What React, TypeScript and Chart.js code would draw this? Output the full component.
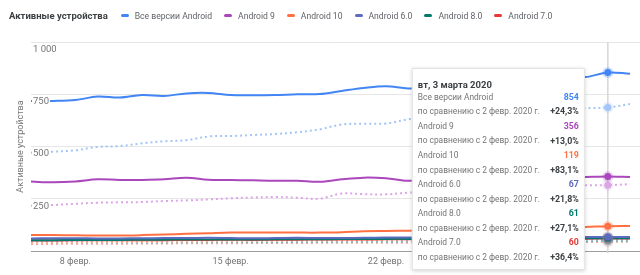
import React, { useEffect, useRef } from 'react';
import { Chart, registerables } from 'chart.js';

Chart.register(...registerables);

const dates = [
  '6 февр.', '7 февр.', '8 февр.', '9 февр.', '10 февр.', '11 февр.', '12 февр.',
  '13 февр.', '14 февр.', '15 февр.', '16 февр.', '17 февр.', '18 февр.', '19 февр.',
  '20 февр.', '21 февр.', '22 февр.', '23 февр.', '24 февр.', '25 февр.', '26 февр.',
  '27 февр.', '28 февр.', '29 февр.', '1 марта', '2 марта', '3 марта', '4 марта',
];

const allVersions = [718, 718, 722, 739, 734, 746, 742, 754, 756, 746, 745, 746, 750, 751, 766, 780, 788, 778, 784, 796, 803, 812, 818, 826, 830, 832, 854, 848];
const allVersionsPrev = [470, 475, 482, 498, 502, 515, 525, 530, 548, 550, 555, 560, 568, 582, 605, 609, 610, 630, 638, 645, 652, 660, 664, 670, 676, 683, 687, 703];
const android9 = [332, 329, 333, 343, 340, 340, 343, 351, 341, 340, 338, 336, 336, 331, 343, 351, 348, 336, 340, 345, 349, 350, 346, 350, 352, 354, 356, 354];
const android9Prev = [217, 220, 226, 231, 233, 234, 239, 242, 247, 252, 256, 258, 255, 250, 275, 272, 271, 279, 284, 290, 294, 299, 303, 307, 311, 314, 315, 320];
const android10 = [77, 76, 75, 74, 74, 76, 79, 82, 85, 88, 88, 88, 88, 88, 90, 95, 96, 97, 99, 101, 104, 106, 109, 111, 113, 115, 119, 120];
const android10Prev = [38, 39, 40, 41, 42, 43, 44, 45, 46, 47, 48, 49, 50, 50, 51, 53, 54, 55, 56, 57, 58, 59, 60, 61, 62, 63, 65, 66];
const android60 = [60, 61, 61, 60, 60, 61, 62, 62, 63, 62, 61, 62, 63, 62, 62, 63, 64, 64, 64, 65, 65, 65, 66, 66, 66, 67, 67, 67];
const android60Prev = [45, 45, 46, 46, 47, 47, 48, 48, 48, 49, 49, 50, 50, 50, 51, 51, 52, 52, 52, 53, 53, 53, 54, 54, 54, 55, 55, 56];
const android80 = [52, 52, 53, 53, 53, 54, 54, 55, 55, 55, 55, 56, 56, 56, 57, 57, 58, 58, 58, 59, 59, 59, 60, 60, 60, 61, 61, 61];
const android80Prev = [38, 38, 39, 39, 40, 40, 40, 41, 41, 42, 42, 42, 43, 43, 43, 44, 44, 45, 45, 45, 46, 46, 46, 47, 47, 47, 48, 48];
const android70 = [50, 50, 51, 51, 51, 52, 52, 53, 53, 54, 53, 54, 54, 55, 55, 55, 56, 56, 57, 57, 57, 58, 58, 59, 59, 59, 60, 60];
const android70Prev = [34, 34, 35, 35, 35, 36, 36, 37, 37, 37, 38, 38, 38, 39, 39, 40, 40, 40, 41, 41, 42, 42, 42, 43, 43, 43, 44, 44];

const seriesNames = ['Все версии Android', 'Android 9', 'Android 10', 'Android 6.0', 'Android 8.0', 'Android 7.0'];
const seriesColors = ['#4285f4', '#ab47bc', '#ff7043', '#5c6bc0', '#00796b', '#e53935'];
const prevColors = ['#a3c5f8', '#dca6e6', '#ffb29b', '#a9b1de', '#7fbdb4', '#f3a09e'];
const currentValues = [allVersions, android9, android10, android60, android80, android70];
const previousValues = [allVersionsPrev, android9Prev, android10Prev, android60Prev, android80Prev, android70Prev];
const changeLabels = ['+24,3%', '+13,0%', '+83,1%', '+21,8%', '+27,1%', '+36,4%'];

const chartTitle = 'Активные устройства';
const yAxisTitle = 'Активные устройства';
const tooltipTitle = 'вт, 3 марта 2020';
const compareText = 'по сравнению с 2 февр. 2020 г.';
const hoverIndex = 26;
const xTickIndexes = [2, 9, 16, 23];
const yTickValues = [0, 250, 500, 750, 1000];

const FONT = 'Roboto, "Noto Sans", sans-serif';

const hoverPlugin = {
  id: 'hoverOverlay',
  beforeDatasetsDraw(chart: any) {
    const { ctx, chartArea } = chart;
    const x = chart.scales.x.getPixelForValue(hoverIndex);
    ctx.save();
    ctx.strokeStyle = '#d6d6d6';
    ctx.lineWidth = 1.5;
    ctx.beginPath();
    ctx.moveTo(x, chartArea.top);
    ctx.lineTo(x, chartArea.bottom + 2);
    ctx.stroke();
    ctx.restore();
  },
  afterDatasetsDraw(chart: any) {
    const { ctx } = chart;
    const n = chart.data.datasets.length;
    ctx.save();
    for (let di = n - 1; di >= 0; di--) {
      const meta = chart.getDatasetMeta(di);
      const pt = meta.data[hoverIndex];
      if (!pt) continue;
      const color = chart.data.datasets[di].borderColor;
      ctx.globalAlpha = 0.25;
      ctx.fillStyle = color;
      ctx.beginPath();
      ctx.arc(pt.x, pt.y, 5.5, 0, Math.PI * 2);
      ctx.fill();
      ctx.globalAlpha = 1;
      ctx.beginPath();
      ctx.arc(pt.x, pt.y, 3.5, 0, Math.PI * 2);
      ctx.fill();
    }
    ctx.restore();
  },
  afterDraw(chart: any) {
    const { ctx, chartArea } = chart;
    const hx = chart.scales.x.getPixelForValue(hoverIndex);
    const x0 = hx - 196;
    const x1 = hx - 23;
    const y0 = chartArea.top + 26;
    const y1 = y0 + 202;
    ctx.save();
    ctx.shadowColor = 'rgba(0,0,0,0.18)';
    ctx.shadowBlur = 4;
    ctx.shadowOffsetY = 1;
    ctx.fillStyle = '#ffffff';
    ctx.fillRect(x0, y0, x1 - x0, y1 - y0);
    ctx.shadowColor = 'transparent';
    ctx.strokeStyle = '#e3e3e3';
    ctx.lineWidth = 1;
    ctx.strokeRect(x0 + 0.5, y0 + 0.5, x1 - x0 - 1, y1 - y0 - 1);

    ctx.textBaseline = 'middle';
    ctx.textAlign = 'left';
    ctx.font = `bold 9.5px ${FONT}`;
    ctx.fillStyle = '#3c4043';
    ctx.fillText(tooltipTitle, x0 + 6, y0 + 17.5);

    const step = 14.55;
    seriesNames.forEach((name, k) => {
      const yl = y0 + 29.7 + k * 2 * step;
      const yc = yl + step;
      ctx.textAlign = 'left';
      ctx.font = `8.4px ${FONT}`;
      ctx.fillStyle = '#757575';
      ctx.fillText(name, x0 + 6, yl);
      ctx.fillText(compareText, x0 + 6, yc);
      ctx.textAlign = 'right';
      ctx.font = `bold 8.8px ${FONT}`;
      ctx.fillStyle = seriesColors[k];
      ctx.fillText(String(currentValues[k][hoverIndex]), x1 - 6, yl);
      ctx.fillStyle = '#3c4043';
      ctx.fillText(changeLabels[k], x1 - 6, yc);
    });
    ctx.restore();
  },
};

export default function App() {
  const canvasRef = useRef<HTMLCanvasElement | null>(null);

  useEffect(() => {
    if (!canvasRef.current) return;
    const datasets: any[] = [];
    currentValues.forEach((vals, k) => {
      datasets.push({
        label: seriesNames[k],
        data: vals.map((v, i) => ({ x: i, y: v })),
        borderColor: seriesColors[k],
        backgroundColor: seriesColors[k],
        borderWidth: 2,
        pointRadius: 0,
        tension: 0.35,
        fill: false,
      });
    });
    previousValues.forEach((vals, k) => {
      datasets.push({
        label: seriesNames[k] + ' (2 февр.)',
        data: vals.map((v, i) => ({ x: i, y: v })),
        borderColor: prevColors[k],
        backgroundColor: prevColors[k],
        borderWidth: 2,
        borderDash: [2, 3],
        pointRadius: 0,
        tension: 0.35,
        fill: false,
      });
    });

    const chart = new Chart(canvasRef.current, {
      type: 'line',
      data: { datasets },
      plugins: [hoverPlugin],
      options: {
        animation: false,
        responsive: true,
        maintainAspectRatio: false,
        layout: { padding: { top: 42, right: 0, bottom: 0, left: 0 } },
        plugins: {
          legend: { display: false },
          tooltip: { enabled: false },
        },
        scales: {
          x: {
            type: 'linear',
            min: 0,
            max: 27.45,
            afterFit: (s: any) => { s.height = 24; },
            afterBuildTicks: (s: any) => { s.ticks = xTickIndexes.map((v) => ({ value: v })); },
            grid: { display: false, drawTicks: false },
            border: { display: true, color: '#9e9e9e', width: 1 },
            ticks: {
              padding: 5,
              maxRotation: 0,
              autoSkip: false,
              color: '#757575',
              font: { family: FONT, size: 9 },
              callback: (v: any) => dates[Math.round(v)] ?? '',
            },
          },
          y: {
            min: 0,
            max: 1000,
            afterFit: (s: any) => { s.width = 31; },
            afterBuildTicks: (s: any) => { s.ticks = yTickValues.map((v) => ({ value: v })); },
            border: { display: false },
            grid: {
              drawTicks: false,
              color: (c: any) => (c.tick && c.tick.value === 0 ? '#9e9e9e' : '#e6e6e6'),
              lineWidth: 1,
            },
            title: {
              display: true,
              text: yAxisTitle,
              color: '#757575',
              font: { family: FONT, size: 9 },
              padding: { top: 15, bottom: 0 },
            },
            ticks: {
              mirror: true,
              z: 1,
              padding: 2,
              labelOffset: 7.5,
              color: '#757575',
              font: { family: FONT, size: 9.5 },
              showLabelBackdrop: true,
              backdropColor: '#ffffff',
              backdropPadding: { top: 0, bottom: 0, left: 1, right: 1 },
              callback: (v: any) => (v === 0 ? '' : String(v).replace(/\B(?=(\d{3})+(?!\d))/g, ' ')),
            },
          },
        },
      } as any,
    });
    return () => chart.destroy();
  }, []);

  return (
    <div style={{ position: 'absolute', left: 0, top: 0, width: 640, height: 275, background: '#fff', fontFamily: FONT }}>
      <canvas ref={canvasRef} width={640} height={275} />
      <div
        style={{
          position: 'absolute', left: 9, top: 0, height: 31, display: 'flex', alignItems: 'center',
          fontSize: 8.6, color: '#5f6368', pointerEvents: 'none', whiteSpace: 'nowrap',
        }}
      >
        <span style={{ fontWeight: 'bold', color: '#3c4043', marginRight: 13, fontSize: 9.5 }}>{chartTitle}</span>
        {seriesNames.map((name, k) => (
          <span key={name} style={{ display: 'flex', alignItems: 'center', marginRight: 12 }}>
            <span style={{ display: 'inline-block', width: 8, height: 3, borderRadius: 2, background: seriesColors[k], marginRight: 6 }} />
            <span>{name}</span>
          </span>
        ))}
      </div>
    </div>
  );
}
